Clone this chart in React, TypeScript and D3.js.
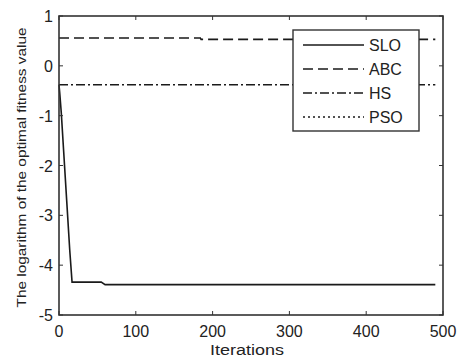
import React from "react";
import * as d3 from "d3";

const sloIter = [0, 1, 3, 6, 10, 14, 17, 55, 60, 490];
const sloVal = [-0.38, -0.55, -0.95, -1.7, -2.7, -3.7, -4.34, -4.34, -4.39, -4.39];
const abcIter = [0, 184, 185, 490];
const abcVal = [0.56, 0.56, 0.53, 0.53];
const hsIter = [0, 490];
const hsVal = [-0.38, -0.38];
const xTicks = [0, 100, 200, 300, 400, 500];
const yTicks = [-5, -4, -3, -2, -1, 0, 1];
const legendNames = ["SLO", "ABC", "HS", "PSO"];
const legendDash = ["", "10,5", "9,3,2,3", "2,3"];

export default function App() {
  const W = 461, H = 359;
  const L = 59, R = 443, T = 16, B = 315;
  const x = d3.scaleLinear().domain([0, 500]).range([L, R]);
  const y = d3.scaleLinear().domain([-5, 1]).range([B, T]);
  const line = d3.line<[number, number]>().x(d => x(d[0])).y(d => y(d[1]));
  const sData = sloIter.map((v, i) => [v, sloVal[i]] as [number, number]);
  const aData = abcIter.map((v, i) => [v, abcVal[i]] as [number, number]);
  const hData = hsIter.map((v, i) => [v, hsVal[i]] as [number, number]);
  const font = "Arial, 'Liberation Sans', sans-serif";
  const stroke = "#1a1a1a";
  return (
    <svg width={W} height={H} style={{ position: "absolute", left: 0, top: 0, background: "#fff" }} fontFamily={font}>
      <rect x={0} y={0} width={W} height={H} fill="#fff" />
      <path d={line(aData) || ""} fill="none" stroke={stroke} strokeWidth={1.6} strokeDasharray="10,5" />
      <path d={line(hData) || ""} fill="none" stroke={stroke} strokeWidth={1.6} strokeDasharray="9,3,2,3" />
      <path d={line(sData) || ""} fill="none" stroke={stroke} strokeWidth={1.6} />
      <rect x={L} y={T} width={R - L} height={B - T} fill="none" stroke="#333" strokeWidth={1.6} />
      {xTicks.map(t => (
        <g key={"x" + t}>
          <line x1={x(t)} x2={x(t)} y1={B} y2={B - 4} stroke="#333" />
          <line x1={x(t)} x2={x(t)} y1={T} y2={T + 4} stroke="#333" />
          <text x={x(t)} y={337} textAnchor="middle" fontSize={16} fill="#222">{t}</text>
        </g>
      ))}
      {yTicks.map(t => (
        <g key={"y" + t}>
          <line x1={L} x2={L + 4} y1={y(t)} y2={y(t)} stroke="#333" />
          <line x1={R} x2={R - 4} y1={y(t)} y2={y(t)} stroke="#333" />
          <text x={53} y={y(t) + 6} textAnchor="end" fontSize={16} fill="#222">{t}</text>
        </g>
      ))}
      <text x={x(250) - 4} y={355} textAnchor="middle" fontSize={14} textLength={74} lengthAdjust="spacingAndGlyphs" fill="#222">Iterations</text>
      <text transform={`translate(26,${(T + B) / 2 + 2}) rotate(-90)`} textAnchor="middle" fontSize={13.5} textLength={280} lengthAdjust="spacingAndGlyphs" fill="#222">
        The logarithm of the optimal fitness value
      </text>
      <rect x={293} y={30} width={126} height={101} fill="#fff" stroke="#333" strokeWidth={1.4} />
      {legendNames.map((n, i) => {
        const yy = 45 + i * 24;
        return (
          <g key={n}>
            <line x1={303} x2={364} y1={yy} y2={yy} stroke={stroke} strokeWidth={1.4} strokeDasharray={legendDash[i] || undefined} />
            <text x={369} y={yy + 6} fontSize={16} fill="#222">{n}</text>
          </g>
        );
      })}
    </svg>
  );
}
